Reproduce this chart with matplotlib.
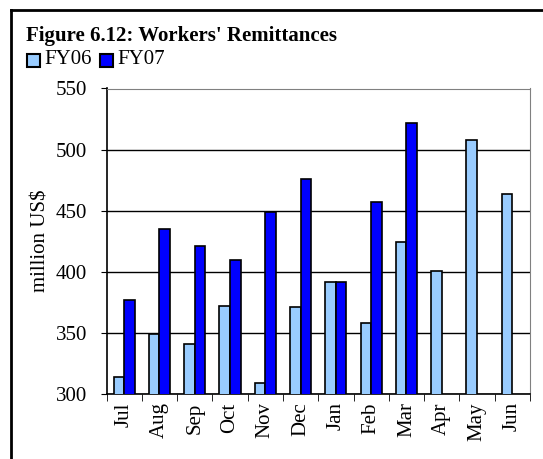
import matplotlib
matplotlib.use("Agg")
import matplotlib.pyplot as plt
import numpy as np
from matplotlib.patches import Rectangle
from matplotlib.lines import Line2D

months = ["Jul", "Aug", "Sep", "Oct", "Nov", "Dec", "Jan", "Feb", "Mar", "Apr", "May", "Jun"]
fy06 = [314, 349, 341, 372, 309, 371, 392, 358, 424, 401, 508, 464]
fy07 = [377, 435, 421, 410, 449, 476, 392, 457, 522, np.nan, np.nan, np.nan]
series_names = ["FY06", "FY07"]
title = "Figure 6.12: Workers' Remittances"
ylabel = "million US$"
yticks = [300, 350, 400, 450, 500, 550]

plt.rcParams['font.family'] = ['Liberation Serif', 'DejaVu Serif']

W, H = 543, 459
fig = plt.figure(figsize=(W / 100, H / 100), dpi=100)
ax = fig.add_axes([106.5 / W, 1 - 394 / H, (530 - 106.5) / W, (394 - 88.5) / H])

x = np.arange(len(months))
bw = 0.3
c06 = "#99CCFF"
c07 = "#0000FF"
ax.bar(x - bw / 2, fy06, bw, color=c06, edgecolor="black", linewidth=1.2, zorder=3)
ax.bar(x + bw / 2, fy07, bw, color=c07, edgecolor="black", linewidth=1.2, zorder=3)

fs = 15
ax.set_xlim(-0.5, len(months) - 0.5)
ax.set_ylim(300, 550)
ax.set_yticks(yticks)
ax.set_yticklabels([str(v) for v in yticks], fontsize=fs)
ax.yaxis.grid(True, color="black", linewidth=1)
ax.set_axisbelow(True)

ax.set_xticks(x)
ax.set_xticklabels(months, rotation=90, fontsize=fs)
ax.tick_params(axis="x", length=0, pad=6)
ax.set_xticks(np.arange(-0.5, len(months)), minor=True)
ax.tick_params(axis="x", which="minor", length=5, direction="out", color="black")
ax.tick_params(axis="y", length=4, direction="out", pad=10)
ax.set_ylabel(ylabel, fontsize=fs, labelpad=4)

for s in ["top", "right"]:
    ax.spines[s].set_color("#808080")
for s in ["left", "bottom"]:
    ax.spines[s].set_color("black")
    ax.spines[s].set_linewidth(1.2)

fig.text(26 / W, 1 - 36 / H, title, fontsize=15, fontweight="bold", va="center", ha="left")

# legend
for i, (name, col) in enumerate(zip(series_names, [c06, c07])):
    lx = 27 + 73 * i
    fig.patches.append(Rectangle((lx / W, 1 - 67 / H), 13 / W, 13 / H, transform=fig.transFigure,
                                 facecolor=col, edgecolor="black", linewidth=1.5))
    fig.text((lx + 17) / W, 1 - 60 / H, name, fontsize=fs, va="center", ha="left")

# outer frame (top and left only visible)
fig.add_artist(Line2D([11 / W, 1], [1 - 9.5 / H, 1 - 9.5 / H], transform=fig.transFigure, color="black", linewidth=2))
fig.add_artist(Line2D([11 / W, 11 / W], [0, 1 - 9.5 / H], transform=fig.transFigure, color="black", linewidth=2))

fig.savefig("out.png", dpi=100)
